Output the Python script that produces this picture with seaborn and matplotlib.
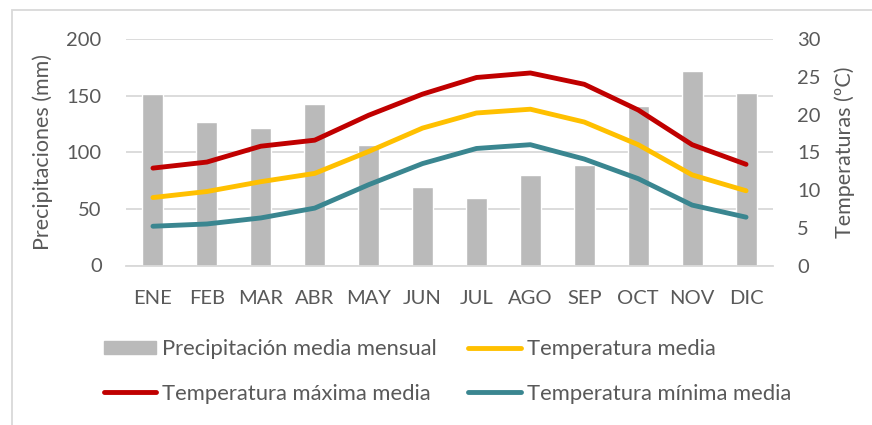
import numpy as np
import pandas as pd
import matplotlib
matplotlib.use("Agg")
import matplotlib.pyplot as plt
from matplotlib.lines import Line2D
from matplotlib.patches import Patch, Rectangle
import seaborn as sns

meses = ["ENE", "FEB", "MAR", "ABR", "MAY", "JUN", "JUL", "AGO", "SEP", "OCT", "NOV", "DIC"]
precip = [151, 127, 121, 143, 106, 69, 60, 80, 89, 141, 172, 152]
t_max = [12.9, 13.7, 15.8, 16.6, 19.9, 22.7, 24.9, 25.5, 24.0, 20.6, 16.0, 13.4]
t_med = [9.0, 9.8, 11.1, 12.2, 15.1, 18.2, 20.2, 20.7, 19.0, 16.0, 12.0, 9.9]
t_min = [5.2, 5.5, 6.3, 7.6, 10.7, 13.5, 15.5, 16.0, 14.1, 11.5, 8.0, 6.4]

c_bar = "#BABABA"
c_max = "#C00000"
c_med = "#FFC000"
c_min = "#3A8690"
c_txt = "#595959"
c_grid = "#D9D9D9"
lw = 3.5

sns.set_style("white")
plt.rcParams["font.family"] = ["Lato", "DejaVu Sans"]

df = pd.DataFrame({"mes": meses, "pos": np.arange(len(meses)), "precip": precip,
                   "tmax": t_max, "tmed": t_med, "tmin": t_min})

fig = plt.figure(figsize=(8.72, 4.25), dpi=100)
ax = fig.add_axes([126 / 872, 1 - 265.5 / 425, (773 - 126) / 872, (265.5 - 39) / 425])

sns.barplot(data=df, x="mes", y="precip", color=c_bar, width=0.39, saturation=1, ax=ax)
ax.set_ylim(0, 200)
ax.set_yticks([0, 50, 100, 150, 200])
ax.set_xlim(-0.5, len(meses) - 0.5)
ax.yaxis.grid(True, color=c_grid, lw=1.3)
ax.set_axisbelow(True)
for s in ["top", "left", "right"]:
    ax.spines[s].set_visible(False)
ax.spines["bottom"].set_color(c_grid)
ax.spines["bottom"].set_linewidth(1.3)
ax.set_xlabel("")
ax.set_ylabel("Precipitaciones (mm)", fontsize=15.5, color=c_txt, labelpad=10)
ax.tick_params(axis="both", length=0, labelsize=14.5, labelcolor=c_txt)
ax.tick_params(axis="y", pad=17.5)
ax.tick_params(axis="x", pad=17.5)

ax2 = ax.twinx()
sns.lineplot(data=df, x="pos", y="tmed", color=c_med, lw=lw, ax=ax2, solid_capstyle="round")
sns.lineplot(data=df, x="pos", y="tmax", color=c_max, lw=lw, ax=ax2, solid_capstyle="round")
sns.lineplot(data=df, x="pos", y="tmin", color=c_min, lw=lw, ax=ax2, solid_capstyle="round")
ax2.set_ylim(0, 30)
ax2.set_yticks(range(0, 31, 5))
ax2.set_xlim(-0.5, len(meses) - 0.5)
for s in ax2.spines.values():
    s.set_visible(False)
ax2.set_ylabel("Temperaturas (ºC)", fontsize=15.5, color=c_txt, labelpad=10)
ax2.tick_params(axis="y", length=0, labelsize=14.5, labelcolor=c_txt, pad=17.5)
ax2.set_xlabel("")

handles = [
    Patch(color=c_bar),
    Line2D([], [], color=c_max, lw=lw, solid_capstyle="round"),
    Line2D([], [], color=c_med, lw=lw, solid_capstyle="round"),
    Line2D([], [], color=c_min, lw=lw, solid_capstyle="round"),
]
labels = ["Precipitación media mensual", "Temperatura máxima media",
          "Temperatura media", "Temperatura mínima media"]
leg = fig.legend(handles, labels, ncol=2, loc="upper left",
                 bbox_to_anchor=(104 / 872, 1 - 339 / 425), frameon=False,
                 fontsize=15.8, handlelength=2.39, handleheight=0.56,
                 handletextpad=0.27, columnspacing=1.42, labelspacing=1.12,
                 borderpad=0, borderaxespad=0)
for t in leg.get_texts():
    t.set_color(c_txt)

fig.patches.append(Rectangle((12 / 872, -0.1), 1.2, 1.1 - 10 / 425,
                             transform=fig.transFigure, fill=False,
                             edgecolor=c_grid, lw=1.3))

fig.savefig("out.png", dpi=100)
